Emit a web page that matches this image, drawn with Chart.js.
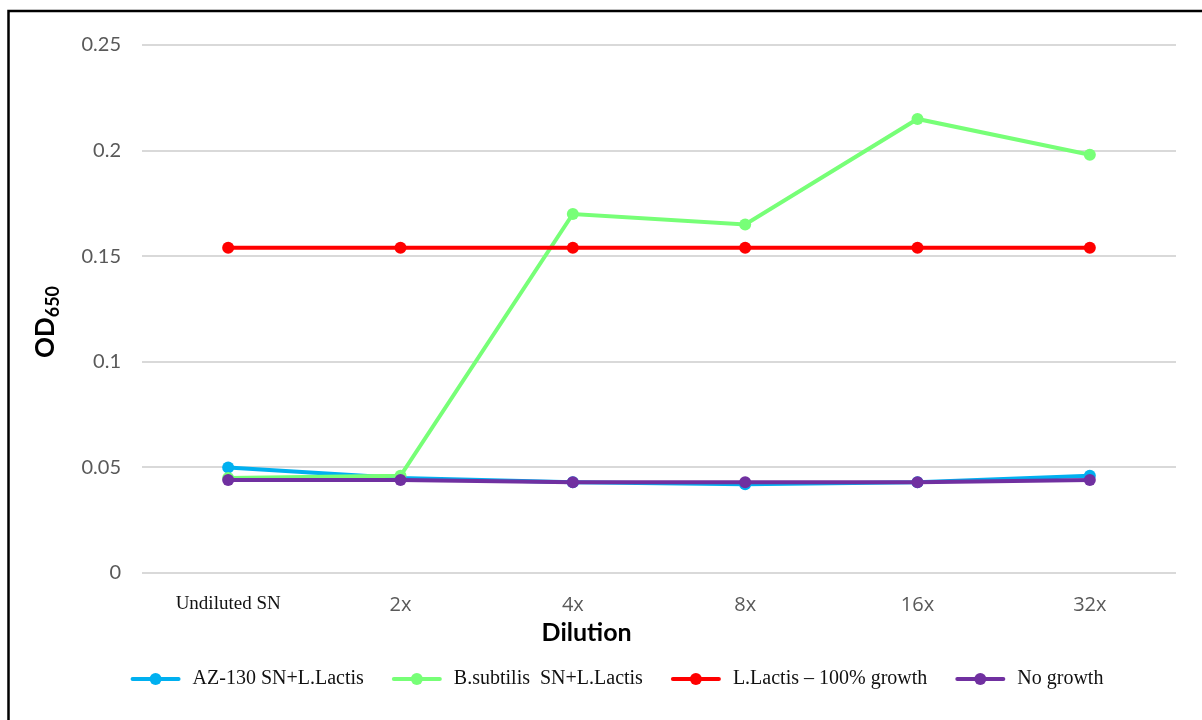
<!DOCTYPE html>
<html>
<head>
<meta charset="utf-8">
<script src="https://cdn.jsdelivr.net/npm/chart.js@4/dist/chart.umd.min.js"></script>
<style>
  html, body { margin: 0; padding: 0; background: #fff; }
  #wrap { position: relative; width: 1202px; height: 720px; }
</style>
</head>
<body>
<div id="wrap"><canvas id="c" width="1202" height="720"></canvas></div>
<script>
// ---- data ----
const categories = ['Undiluted SN', '2x', '4x', '8x', '16x', '32x'];
const az130 = [0.050, 0.045, 0.043, 0.042, 0.043, 0.046];
const bSubtilis = [0.045, 0.046, 0.170, 0.165, 0.215, 0.198];
const lLactis = [0.154, 0.154, 0.154, 0.154, 0.154, 0.154];
const noGrowth = [0.044, 0.044, 0.043, 0.043, 0.043, 0.044];
const seriesNames = ['AZ-130 SN+L.Lactis', 'B.subtilis  SN+L.Lactis', 'L.Lactis \u2013 100% growth', 'No growth'];
const seriesColors = ['#00B0F0', '#77FF77', '#FF0000', '#7030A0'];
const yTicks = { min: 0, max: 0.25, step: 0.05 };
const xTitle = 'Dilution';
const yTitleMain = 'OD';
const yTitleSub = '650';

const seriesValues = [az130, bSubtilis, lLactis, noGrowth];
const drawOrder = [4, 3, 2, 1];

const datasets = seriesValues.map((vals, i) => ({
  label: seriesNames[i],
  data: vals,
  borderColor: seriesColors[i],
  backgroundColor: seriesColors[i],
  pointBackgroundColor: seriesColors[i],
  pointBorderColor: seriesColors[i],
  borderWidth: 4,
  pointRadius: 6,
  pointHoverRadius: 6,
  pointBorderWidth: 0,
  tension: 0,
  fill: false,
  order: drawOrder[i]
}));

const decorPlugin = {
  id: 'decor',
  beforeDraw(chart) {
    const ctx = chart.ctx;
    ctx.save();
    ctx.fillStyle = '#fff';
    ctx.fillRect(0, 0, chart.width, chart.height);
    ctx.strokeStyle = '#000';
    ctx.lineWidth = 2.5;
    ctx.beginPath();
    ctx.moveTo(8.5, chart.height);
    ctx.lineTo(8.5, 11);
    ctx.lineTo(chart.width, 11);
    ctx.stroke();
    ctx.restore();
  },
  afterDraw(chart) {
    const ctx = chart.ctx;
    const ca = chart.chartArea;
    ctx.save();
    // x axis title
    ctx.fillStyle = '#000';
    ctx.font = 'bold 25px Lato, "Open Sans", sans-serif';
    ctx.textAlign = 'center';
    ctx.textBaseline = 'middle';
    ctx.fillText(xTitle, ca.left + (ca.right - ca.left) * 0.43, ca.bottom + 60);
    // y axis title with subscript
    ctx.translate(ca.left - 97, (ca.top + ca.bottom) / 2 + 13);
    ctx.rotate(-Math.PI / 2);
    ctx.font = 'bold 26px Lato, "Open Sans", sans-serif';
    const w1 = ctx.measureText(yTitleMain).width;
    ctx.font = 'bold 18px Lato, "Open Sans", sans-serif';
    const w2 = ctx.measureText(yTitleSub).width;
    const start = -(w1 + w2) / 2;
    ctx.textAlign = 'left';
    ctx.textBaseline = 'alphabetic';
    ctx.font = 'bold 26px Lato, "Open Sans", sans-serif';
    ctx.fillText(yTitleMain, start, 9);
    ctx.font = 'bold 18px Lato, "Open Sans", sans-serif';
    ctx.fillText(yTitleSub, start + w1, 14);
    ctx.restore();

    // legend
    ctx.save();
    const legendY = 679;
    const markerW = 50, textGap = 12, itemGap = 28;
    ctx.font = '20px "Liberation Serif", "Times New Roman", serif';
    const items = chart.data.datasets.map(d => ({ label: d.label, color: d.borderColor, w: ctx.measureText(d.label).width }));
    let total = 0;
    items.forEach((it, i) => { total += markerW + textGap + it.w + (i < items.length - 1 ? itemGap : 0); });
    let x = 617 - total / 2;
    items.forEach(it => {
      ctx.strokeStyle = it.color;
      ctx.lineWidth = 4;
      ctx.lineCap = 'round';
      ctx.beginPath();
      ctx.moveTo(x + 2, legendY);
      ctx.lineTo(x + markerW - 2, legendY);
      ctx.stroke();
      ctx.fillStyle = it.color;
      ctx.beginPath();
      ctx.arc(x + markerW / 2, legendY, 6, 0, Math.PI * 2);
      ctx.fill();
      ctx.fillStyle = '#111';
      ctx.textAlign = 'left';
      ctx.textBaseline = 'middle';
      ctx.fillText(it.label, x + markerW + textGap, legendY);
      x += markerW + textGap + it.w + itemGap;
    });
    ctx.restore();
  }
};

new Chart(document.getElementById('c'), {
  type: 'line',
  data: { labels: categories, datasets },
  options: {
    responsive: false,
    animation: false,
    events: [],
    layout: { padding: { left: 0, right: 26, top: 45, bottom: 0 } },
    plugins: {
      legend: { display: false },
      tooltip: { enabled: false },
      title: { display: false }
    },
    scales: {
      x: {
        offset: true,
        grid: { display: false, drawTicks: false },
        border: { display: false },
        ticks: {
          padding: 20,
          maxRotation: 0,
          autoSkip: false,
          color: (c) => c.index === 0 ? '#111' : '#595959',
          font: (c) => c.index === 0
            ? { family: '"Liberation Serif", "Times New Roman", serif', size: 19 }
            : { family: '"Liberation Sans Narrow", "Arial Narrow", "Open Sans", sans-serif', size: 20 }
        },
        afterFit: (s) => { s.height = 147; }
      },
      y: {
        min: yTicks.min,
        max: yTicks.max,
        ticks: {
          stepSize: yTicks.step,
          padding: 21,
          color: '#595959',
          font: { family: 'Lato, "Open Sans", sans-serif', size: 20 },
          callback: (v) => String(parseFloat(Number(v).toFixed(2)))
        },
        grid: { color: '#D9D9D9', lineWidth: 2, drawTicks: false },
        border: { display: false },
        afterFit: (s) => { s.width = 142; }
      }
    }
  },
  plugins: [decorPlugin]
});
</script>
</body>
</html>
